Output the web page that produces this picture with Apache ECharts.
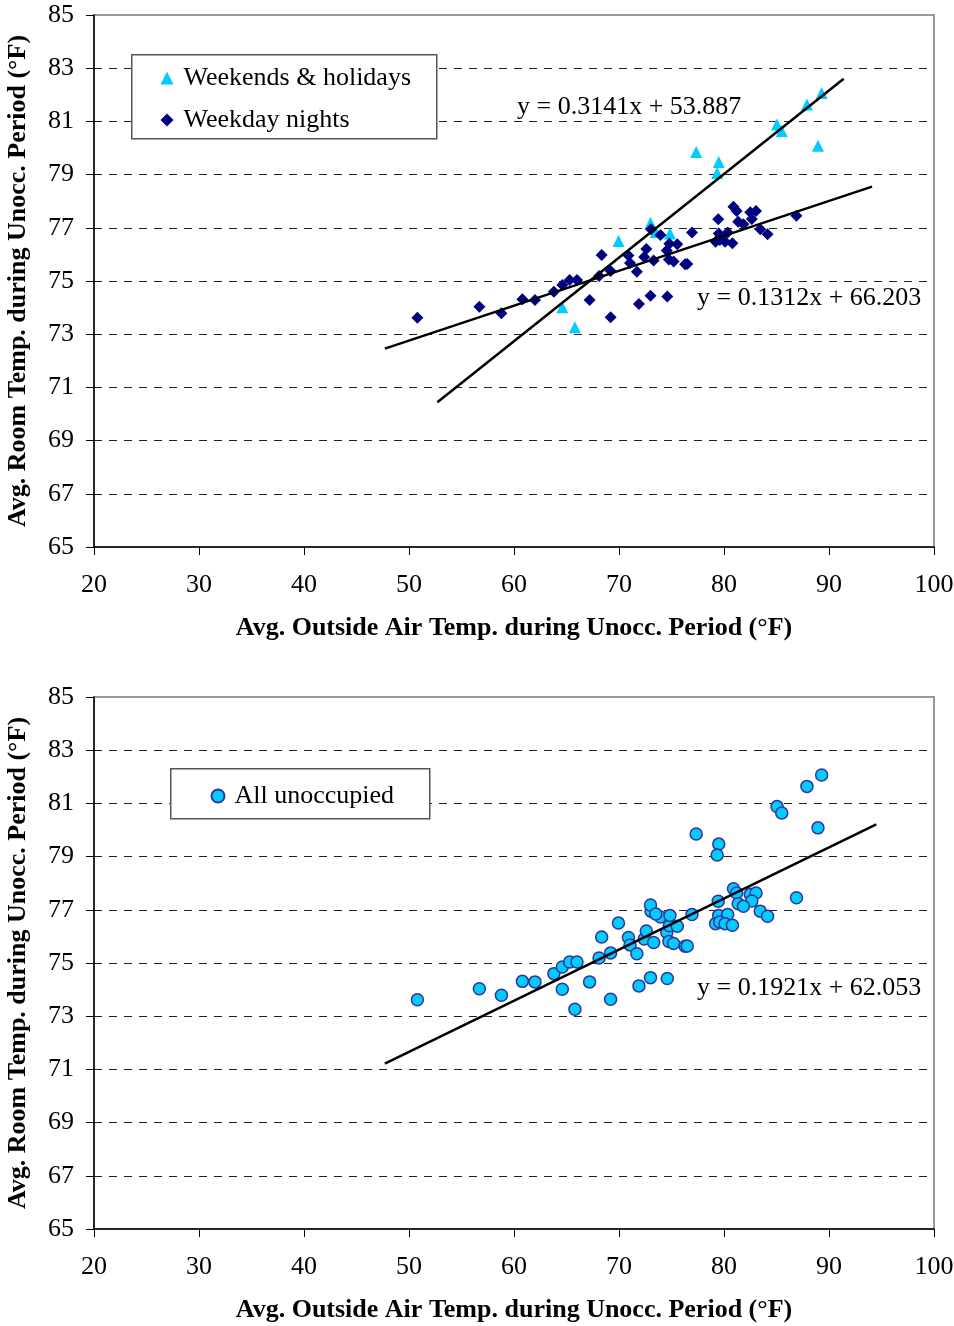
<!DOCTYPE html>
<html>
<head>
<meta charset="utf-8">
<script src="https://cdn.jsdelivr.net/npm/echarts@6/dist/echarts.min.js"></script>
<style>
html, body { margin: 0; padding: 0; background: #fff; }
#chart { width: 954px; height: 1326px; }
</style>
</head>
<body>
<div id="chart"></div>
<script>
// points: [outside temp, room temp]
const weekendHolidays = [
  [64.6, 74.01], [65.8, 73.26], [69.95, 76.5], [73.0, 77.18], [73.5, 76.84],
  [74.85, 76.79], [77.35, 79.85], [79.5, 79.47], [79.35, 79.06], [85.05, 80.88],
  [85.5, 80.64], [87.9, 81.64], [89.3, 82.07], [88.95, 80.08]
]
const weekdayNights = [
  [50.8, 73.62], [56.7, 74.03], [58.8, 73.79], [60.8, 74.31], [62.0, 74.29],
  [63.8, 74.6], [64.6, 74.85], [65.3, 75.04], [66.0, 75.04], [67.2, 74.29],
  [68.1, 75.19], [68.35, 75.98], [69.2, 75.38], [69.2, 73.64], [70.9, 75.96],
  [71.05, 75.68], [71.7, 75.35], [71.9, 74.14], [72.4, 75.9], [72.6, 76.2],
  [73.05, 76.95], [73.0, 74.45], [73.3, 75.77], [73.95, 76.73], [74.6, 74.42],
  [74.55, 76.15], [74.8, 76.4], [74.75, 75.81], [75.2, 75.73], [75.55, 76.38],
  [76.3, 75.63], [76.5, 75.64], [76.95, 76.82], [80.9, 77.79], [81.2, 77.63],
  [79.45, 77.32], [82.5, 77.58], [83.05, 77.63], [82.65, 77.33], [81.35, 77.23],
  [81.85, 77.13], [83.45, 76.95], [84.15, 76.76], [86.9, 77.45], [79.5, 76.79],
  [80.35, 76.82], [79.2, 76.48], [79.6, 76.54], [80.1, 76.48], [80.8, 76.42]
]
// trendline end points
const weekendTrend = [[52.7, 70.44], [91.4, 82.6]]
const weekdayTrend = [[47.7, 72.46], [94.1, 78.55]]
const allTrend = [[47.7, 71.22], [94.5, 80.21]]

const xTicks = { min: 20, max: 100, interval: 10 }
const yTicks = { min: 65, max: 85, interval: 2 }
const xTitle = 'Avg. Outside Air Temp. during Unocc. Period (°F)'
const yTitle = 'Avg. Room Temp. during Unocc. Period (°F)'

const FONT = 'Liberation Serif'
const FS = 26

function xAxisFor (idx) {
  return {
    gridIndex: idx, type: 'value', min: xTicks.min, max: xTicks.max, interval: xTicks.interval,
    name: xTitle, nameLocation: 'middle', nameGap: 68,
    nameTextStyle: { fontFamily: FONT, fontSize: FS, fontWeight: 'bold', color: '#000' },
    axisLine: { lineStyle: { color: '#000', width: 1.5 } },
    axisTick: { length: 8, lineStyle: { color: '#000' } },
    axisLabel: { fontFamily: FONT, fontSize: FS, color: '#000', margin: 25 },
    splitLine: { show: false }
  }
}
function yAxisFor (idx) {
  return {
    gridIndex: idx, type: 'value', min: yTicks.min, max: yTicks.max, interval: yTicks.interval,
    name: yTitle, nameLocation: 'middle', nameGap: 63,
    nameTextStyle: { fontFamily: FONT, fontSize: FS, fontWeight: 'bold', color: '#000' },
    axisLine: { show: true, lineStyle: { color: '#000', width: 1.5 } },
    axisTick: { show: true, length: 8, lineStyle: { color: '#000' } },
    axisLabel: { fontFamily: FONT, fontSize: FS, color: '#000', margin: 20 },
    splitLine: { show: true, showMinLine: false, showMaxLine: false,
      lineStyle: { color: '#222', type: [8, 7], width: 1 } }
  }
}

const chart = echarts.init(document.getElementById('chart'))
chart.setOption({
  animation: false,
  backgroundColor: '#fff',
  textStyle: { fontFamily: FONT },
  grid: [
    { left: 94, top: 15, width: 840, height: 532, outerBoundsMode: 'none', containLabel: false,
      show: true, borderColor: '#999', borderWidth: 2 },
    { left: 94, top: 697, width: 840, height: 532, outerBoundsMode: 'none', containLabel: false,
      show: true, borderColor: '#999', borderWidth: 2 }
  ],
  xAxis: [xAxisFor(0), xAxisFor(1)],
  yAxis: [yAxisFor(0), yAxisFor(1)],
  legend: [
    {
      left: 160.5, top: 65, padding: 0, orient: 'vertical', itemGap: 16, itemWidth: 13, itemHeight: 13,
      textStyle: { fontFamily: FONT, fontSize: FS, color: '#000', padding: [0, 0, 0, 5] },
      data: ['Weekends & holidays', 'Weekday nights']
    },
    {
      left: 210.5, top: 783, padding: 0, orient: 'vertical', itemWidth: 13, itemHeight: 13,
      textStyle: { fontFamily: FONT, fontSize: FS, color: '#000', padding: [0, 0, 0, 5] },
      data: ['All unoccupied']
    }
  ],
  graphic: [
    { type: 'rect', left: 131, top: 54, z: 3,
      shape: { width: 305, height: 84 }, style: { fill: '#fff', stroke: '#555', lineWidth: 1.5 } },
    { type: 'rect', left: 170, top: 768, z: 3,
      shape: { width: 259, height: 50 }, style: { fill: '#fff', stroke: '#555', lineWidth: 1.5 } },
    { type: 'text', left: 517, top: 94, z: 10,
      style: { text: 'y = 0.3141x + 53.887', font: FS + 'px "Liberation Serif"', fill: '#000' } },
    { type: 'text', left: 697, top: 285, z: 10,
      style: { text: 'y = 0.1312x + 66.203', font: FS + 'px "Liberation Serif"', fill: '#000' } },
    { type: 'text', left: 697, top: 975, z: 10,
      style: { text: 'y = 0.1921x + 62.053', font: FS + 'px "Liberation Serif"', fill: '#000' } }
  ],
  series: [
    {
      name: 'Weekends & holidays', type: 'scatter', xAxisIndex: 0, yAxisIndex: 0,
      symbol: 'triangle', symbolSize: 12, itemStyle: { color: '#00CCFF', opacity: 1 },
      data: weekendHolidays
    },
    {
      name: 'Weekday nights', type: 'scatter', xAxisIndex: 0, yAxisIndex: 0,
      symbol: 'diamond', symbolSize: 12, itemStyle: { color: '#000080', opacity: 1 },
      data: weekdayNights
    },
    {
      name: 'weekendTrend', type: 'line', xAxisIndex: 0, yAxisIndex: 0,
      symbol: 'none', lineStyle: { color: '#000', width: 2.5 }, data: weekendTrend
    },
    {
      name: 'weekdayTrend', type: 'line', xAxisIndex: 0, yAxisIndex: 0,
      symbol: 'none', lineStyle: { color: '#000', width: 2.5 }, data: weekdayTrend
    },
    {
      name: 'All unoccupied', type: 'scatter', xAxisIndex: 1, yAxisIndex: 1,
      symbol: 'circle', symbolSize: 12,
      itemStyle: { color: '#00CCFF', borderColor: '#333399', borderWidth: 1.5, opacity: 1 },
      data: weekdayNights.concat(weekendHolidays)
    },
    {
      name: 'allTrend', type: 'line', xAxisIndex: 1, yAxisIndex: 1,
      symbol: 'none', lineStyle: { color: '#000', width: 2.5 }, data: allTrend
    }
  ]
})
</script>
</body>
</html>
